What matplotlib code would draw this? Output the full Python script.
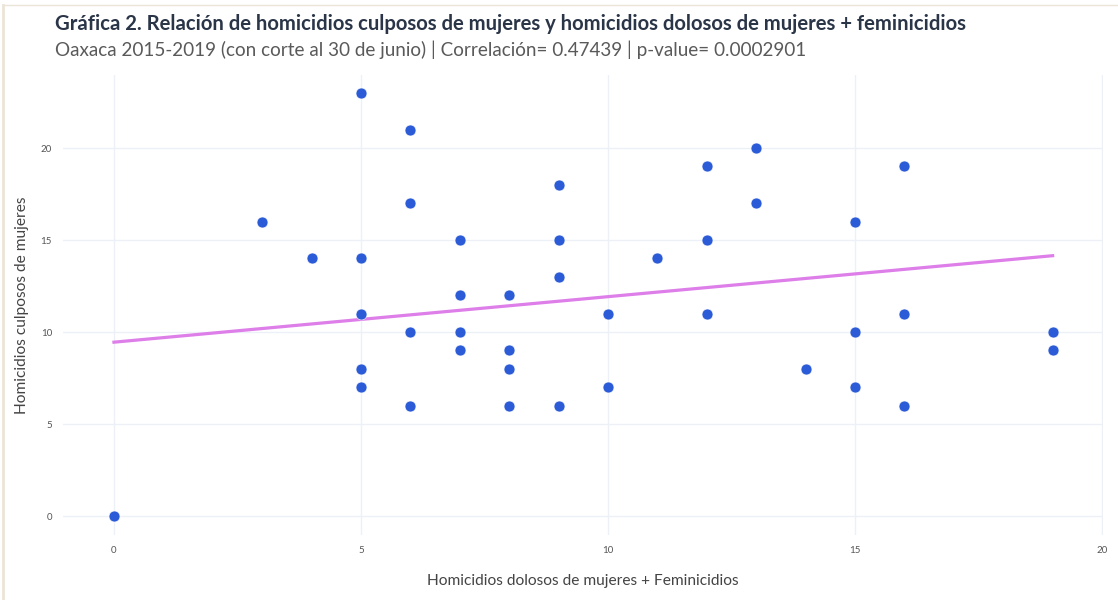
import matplotlib.pyplot as plt
from matplotlib.lines import Line2D

# data
dolosos = [0, 3, 4, 5, 5, 5, 5, 5, 6, 6, 6, 6, 7, 7, 7, 7, 8, 8, 8, 8,
           9, 9, 9, 9, 10, 10, 11, 12, 12, 12, 13, 13, 14, 15, 15, 15,
           16, 16, 16, 19, 19]
culposos = [0, 16, 14, 23, 14, 11, 8, 7, 21, 17, 10, 6, 15, 12, 10, 9, 12, 9, 8, 6,
            18, 15, 13, 6, 11, 7, 14, 19, 15, 11, 20, 17, 8, 16, 10, 7,
            19, 11, 6, 10, 9]
trend_x = [0, 19]
trend_y = [9.45, 14.15]
x_ticks = [0, 5, 10, 15, 20]
y_ticks = [0, 5, 10, 15, 20]

title = "Gráfica 2. Relación de homicidios culposos de mujeres y homicidios dolosos de mujeres + feminicidios"
subtitle = "Oaxaca 2015-2019 (con corte al 30 de junio) | Correlación= 0.47439 | p-value= 0.0002901"

plt.rcParams['font.family'] = ['Lato', 'DejaVu Sans']

fig = plt.figure(figsize=(11.18, 6), dpi=100)
ax = fig.add_axes([0.0564, 0.1083, 0.9302, 0.7667])

ax.scatter(dolosos, culposos, s=62, color='#2b5bd6', edgecolors='white',
           linewidths=0.4, zorder=3)
ax.plot(trend_x, trend_y, color='#dd7ee9', lw=2.3, zorder=2)

ax.set_xlim(-1.03, 20.02)
ax.set_ylim(-1.03, 23.97)
ax.set_xticks(x_ticks)
ax.set_yticks(y_ticks)
ax.grid(True, color='#eef0f7', lw=1)
ax.set_axisbelow(True)
for s in ax.spines.values():
    s.set_visible(False)
ax.tick_params(length=0, labelsize=7, labelcolor='#555555', pad=8)

ax.set_xlabel("Homicidios dolosos de mujeres + Feminicidios", fontsize=11.2,
              color='#444444')
ax.set_ylabel("Homicidios culposos de mujeres", fontsize=11.2,
              color='#444444')
ax.xaxis.set_label_coords(0.5, (535 - 581) / 460, transform=ax.transAxes)
ax.yaxis.set_label_coords((22 - 63) / 1040, 0.5, transform=ax.transAxes)
ax.xaxis.label.set_va('center')
ax.yaxis.label.set_va('center')

fig.text(55 / 1118, 1 - 24 / 600, title, fontsize=14.6, fontweight='bold',
         color='#2a3548', va='center', ha='left')
fig.text(55 / 1118, 1 - 50 / 600, subtitle, fontsize=13.6,
         color='#5a5a5a', va='center', ha='left')

# card border at top and left
fig.add_artist(Line2D([3 / 1118, 3 / 1118], [0, 1 - 5 / 600],
                      transform=fig.transFigure, color='#ebe5d8', lw=2))
fig.add_artist(Line2D([3 / 1118, 1], [1 - 5 / 600, 1 - 5 / 600],
                      transform=fig.transFigure, color='#ebe5d8', lw=1))

fig.savefig('out.png', dpi=100)
plt.close()
